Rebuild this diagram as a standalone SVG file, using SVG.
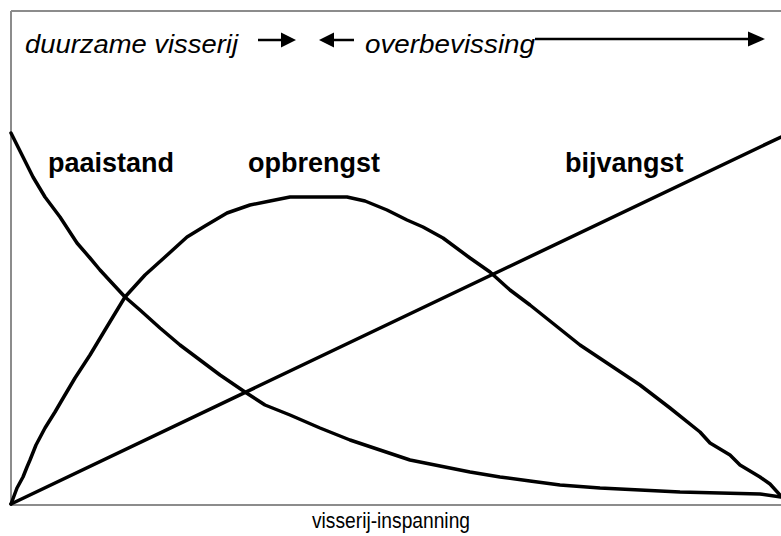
<svg xmlns="http://www.w3.org/2000/svg" width="781" height="536" viewBox="0 0 781 536">
  <style>
    .frame { stroke: #8c8c8c; stroke-width: 2; fill: none; }
    .curve { stroke: #000; stroke-width: 3.5; fill: none; stroke-linejoin: round; stroke-linecap: round; }
    .arrow { stroke: #000; stroke-width: 2.5; fill: none; }
    .head { fill: #000; }
    .zone { font-family: "Liberation Sans", Arial, sans-serif; font-style: italic; font-size: 25px; fill: #000; }
    .label { font-family: "Liberation Sans", Arial, sans-serif; font-weight: bold; font-size: 27px; fill: #000; }
    .axis { font-family: "Liberation Sans", Arial, sans-serif; font-size: 22px; fill: #000; }
  </style>

  <rect width="781" height="536" fill="#fff"/>

  <!-- plot frame: top edge, left edge, horizontal axis -->
  <g id="frame">
    <line class="frame" x1="11" y1="11" x2="781" y2="11"/>
    <line class="frame" x1="11" y1="11" x2="11" y2="505"/>
    <line class="frame" x1="11" y1="505" x2="781" y2="505"/>
  </g>

  <!-- zone header with arrows -->
  <g id="zone-duurzaam">
    <text class="zone" x="25" y="53" textLength="213" lengthAdjust="spacingAndGlyphs">duurzame visserij</text>
    <line class="arrow" x1="258" y1="40" x2="283" y2="40"/>
    <polygon class="head" points="281,32.5 296,40 281,47.5"/>
  </g>
  <g id="zone-overbevissing">
    <polygon class="head" points="334,32.5 319,40 334,47.5"/>
    <line class="arrow" x1="332" y1="40" x2="354" y2="40"/>
    <text class="zone" x="365" y="53" textLength="170" lengthAdjust="spacingAndGlyphs">overbevissing</text>
    <line class="arrow" x1="535" y1="39" x2="750" y2="39"/>
    <polygon class="head" points="748,31.5 765,39 748,46.5"/>
  </g>

  <!-- curves -->
  <g id="curves">
    <polyline id="paaistand-curve" class="curve" points="11,133 22,155 33,177 45,197 60,217 77,243 90,258 100,270 112,283 125,297 140,310 160,328 180,345 200,360 220,375 245,392 265,405 290,415 320,428 350,440 380,450 410,460 440,466 470,472 500,477 530,481 560,485 600,488 640,490 680,492 720,493 760,494 781,497"/>
    <polyline id="opbrengst-curve" class="curve" points="11,504 17,488 23,477 27,467 30,460 36,445 45,428 55,412 62,400 75,378 90,355 105,330 125,297 145,275 165,257 187,237 205,226 227,213 250,205 270,201 290,197 320,197 347,197 365,201 387,210 407,220 423,227 443,238 470,258 490,272 510,290 530,305 555,325 580,345 610,365 640,385 670,408 700,432 710,443 730,455 740,465 760,477 770,484 781,496"/>
    <line id="bijvangst-curve" class="curve" x1="11" y1="504" x2="781" y2="137"/>
  </g>

  <g id="paaistand"><text class="label" x="48" y="172">paaistand</text></g>
  <g id="opbrengst"><text class="label" x="248" y="172">opbrengst</text></g>
  <g id="bijvangst"><text class="label" x="565" y="172">bijvangst</text></g>

  <g id="axis-label">
    <text class="axis" x="312" y="528" textLength="158" lengthAdjust="spacingAndGlyphs">visserij-inspanning</text>
  </g>
</svg>
